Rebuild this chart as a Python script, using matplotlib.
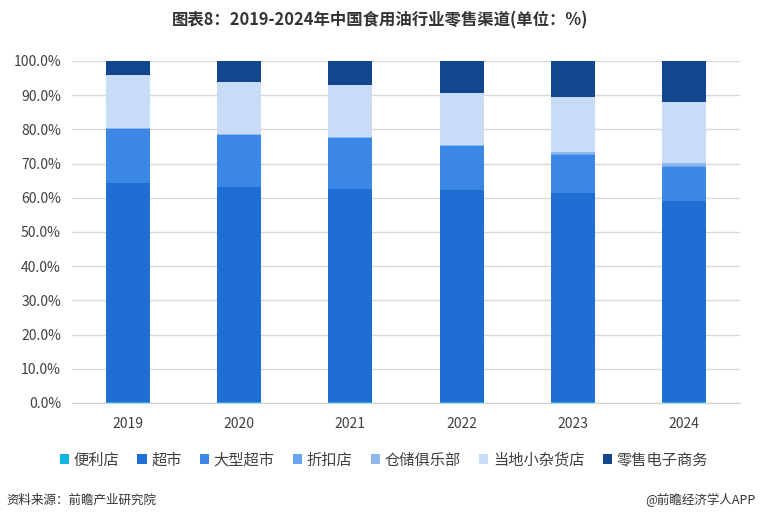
import matplotlib
matplotlib.use('Agg')
import matplotlib.pyplot as plt
from matplotlib.patches import Patch
from matplotlib.ticker import FuncFormatter
import numpy as np

plt.rcParams['font.family'] = ['Noto Sans CJK SC', 'DejaVu Sans']

years = ['2019', '2020', '2021', '2022', '2023', '2024']
channels = ['便利店', '超市', '大型超市', '折扣店', '仓储俱乐部', '当地小杂货店', '零售电子商务']

# share of each channel (%)
conv = [0.3, 0.3, 0.3, 0.3, 0.3, 0.3]
supermarket = [64.0, 62.9, 62.3, 62.0, 61.1, 58.8]
hyper = [15.8, 15.2, 14.9, 12.7, 11.1, 9.9]
discount = [0.1, 0.1, 0.1, 0.2, 0.3, 0.4]
club = [0.1, 0.1, 0.1, 0.3, 0.5, 0.9]
grocery = [15.6, 15.2, 15.2, 15.2, 16.1, 17.8]
ecommerce = [4.1, 6.2, 7.1, 9.3, 10.6, 11.9]

series = [conv, supermarket, hyper, discount, club, grocery, ecommerce]
colors = ['#12b4e6', '#1f6ed4', '#3a87e6', '#68a3ee', '#8fb7ec', '#c8dcf7', '#12468f']

fig = plt.figure(figsize=(7.6, 5.24), dpi=100)
ax = fig.add_axes([72/760, 1 - 403/524, 668/760, 342/524])

x = np.arange(len(years))
bottom = np.zeros(len(years))
for vals, c in zip(series, colors):
    ax.bar(x, vals, 0.395, bottom=bottom, color=c, zorder=3)
    bottom += np.array(vals)

ax.set_xlim(-0.5, len(years) - 0.5)
ax.set_ylim(0, 100)
ax.set_yticks(np.arange(0, 101, 10))
ax.yaxis.set_major_formatter(FuncFormatter(lambda v, p: '%.1f%%' % v))
ax.set_xticks(x)
ax.set_xticklabels(years)
ax.grid(axis='y', color='#d9d9d9', linewidth=1, zorder=0)
for s in ['left', 'right', 'top']:
    ax.spines[s].set_visible(False)
ax.spines['bottom'].set_color('#d0d0d0')
ax.tick_params(axis='both', length=0, labelsize=10, colors='#404040')
ax.tick_params(axis='y', pad=8)
ax.tick_params(axis='x', pad=10)

fig.text(0.5, 1 - 20/524, '图表8：2019-2024年中国食用油行业零售渠道(单位：%)',
         ha='center', va='center', fontsize=11.8, fontweight='bold', color='#333333')

handles = [Patch(facecolor=c, edgecolor='none') for c in colors]
fig.legend(handles, channels, loc='center', bbox_to_anchor=(0.505, 1 - 460/524),
           ncol=7, frameon=False, fontsize=11, handlelength=0.6, handleheight=0.6,
           handletextpad=0.3, columnspacing=1.2, labelcolor='#404040')

fig.text(6/760, 1 - 500/524, '资料来源：前瞻产业研究院', ha='left', va='center',
         fontsize=9, color='#333333')
fig.text(755/760, 1 - 500/524, '@前瞻经济学人APP', ha='right', va='center',
         fontsize=9, color='#333333')

fig.savefig('out.png', dpi=100)
